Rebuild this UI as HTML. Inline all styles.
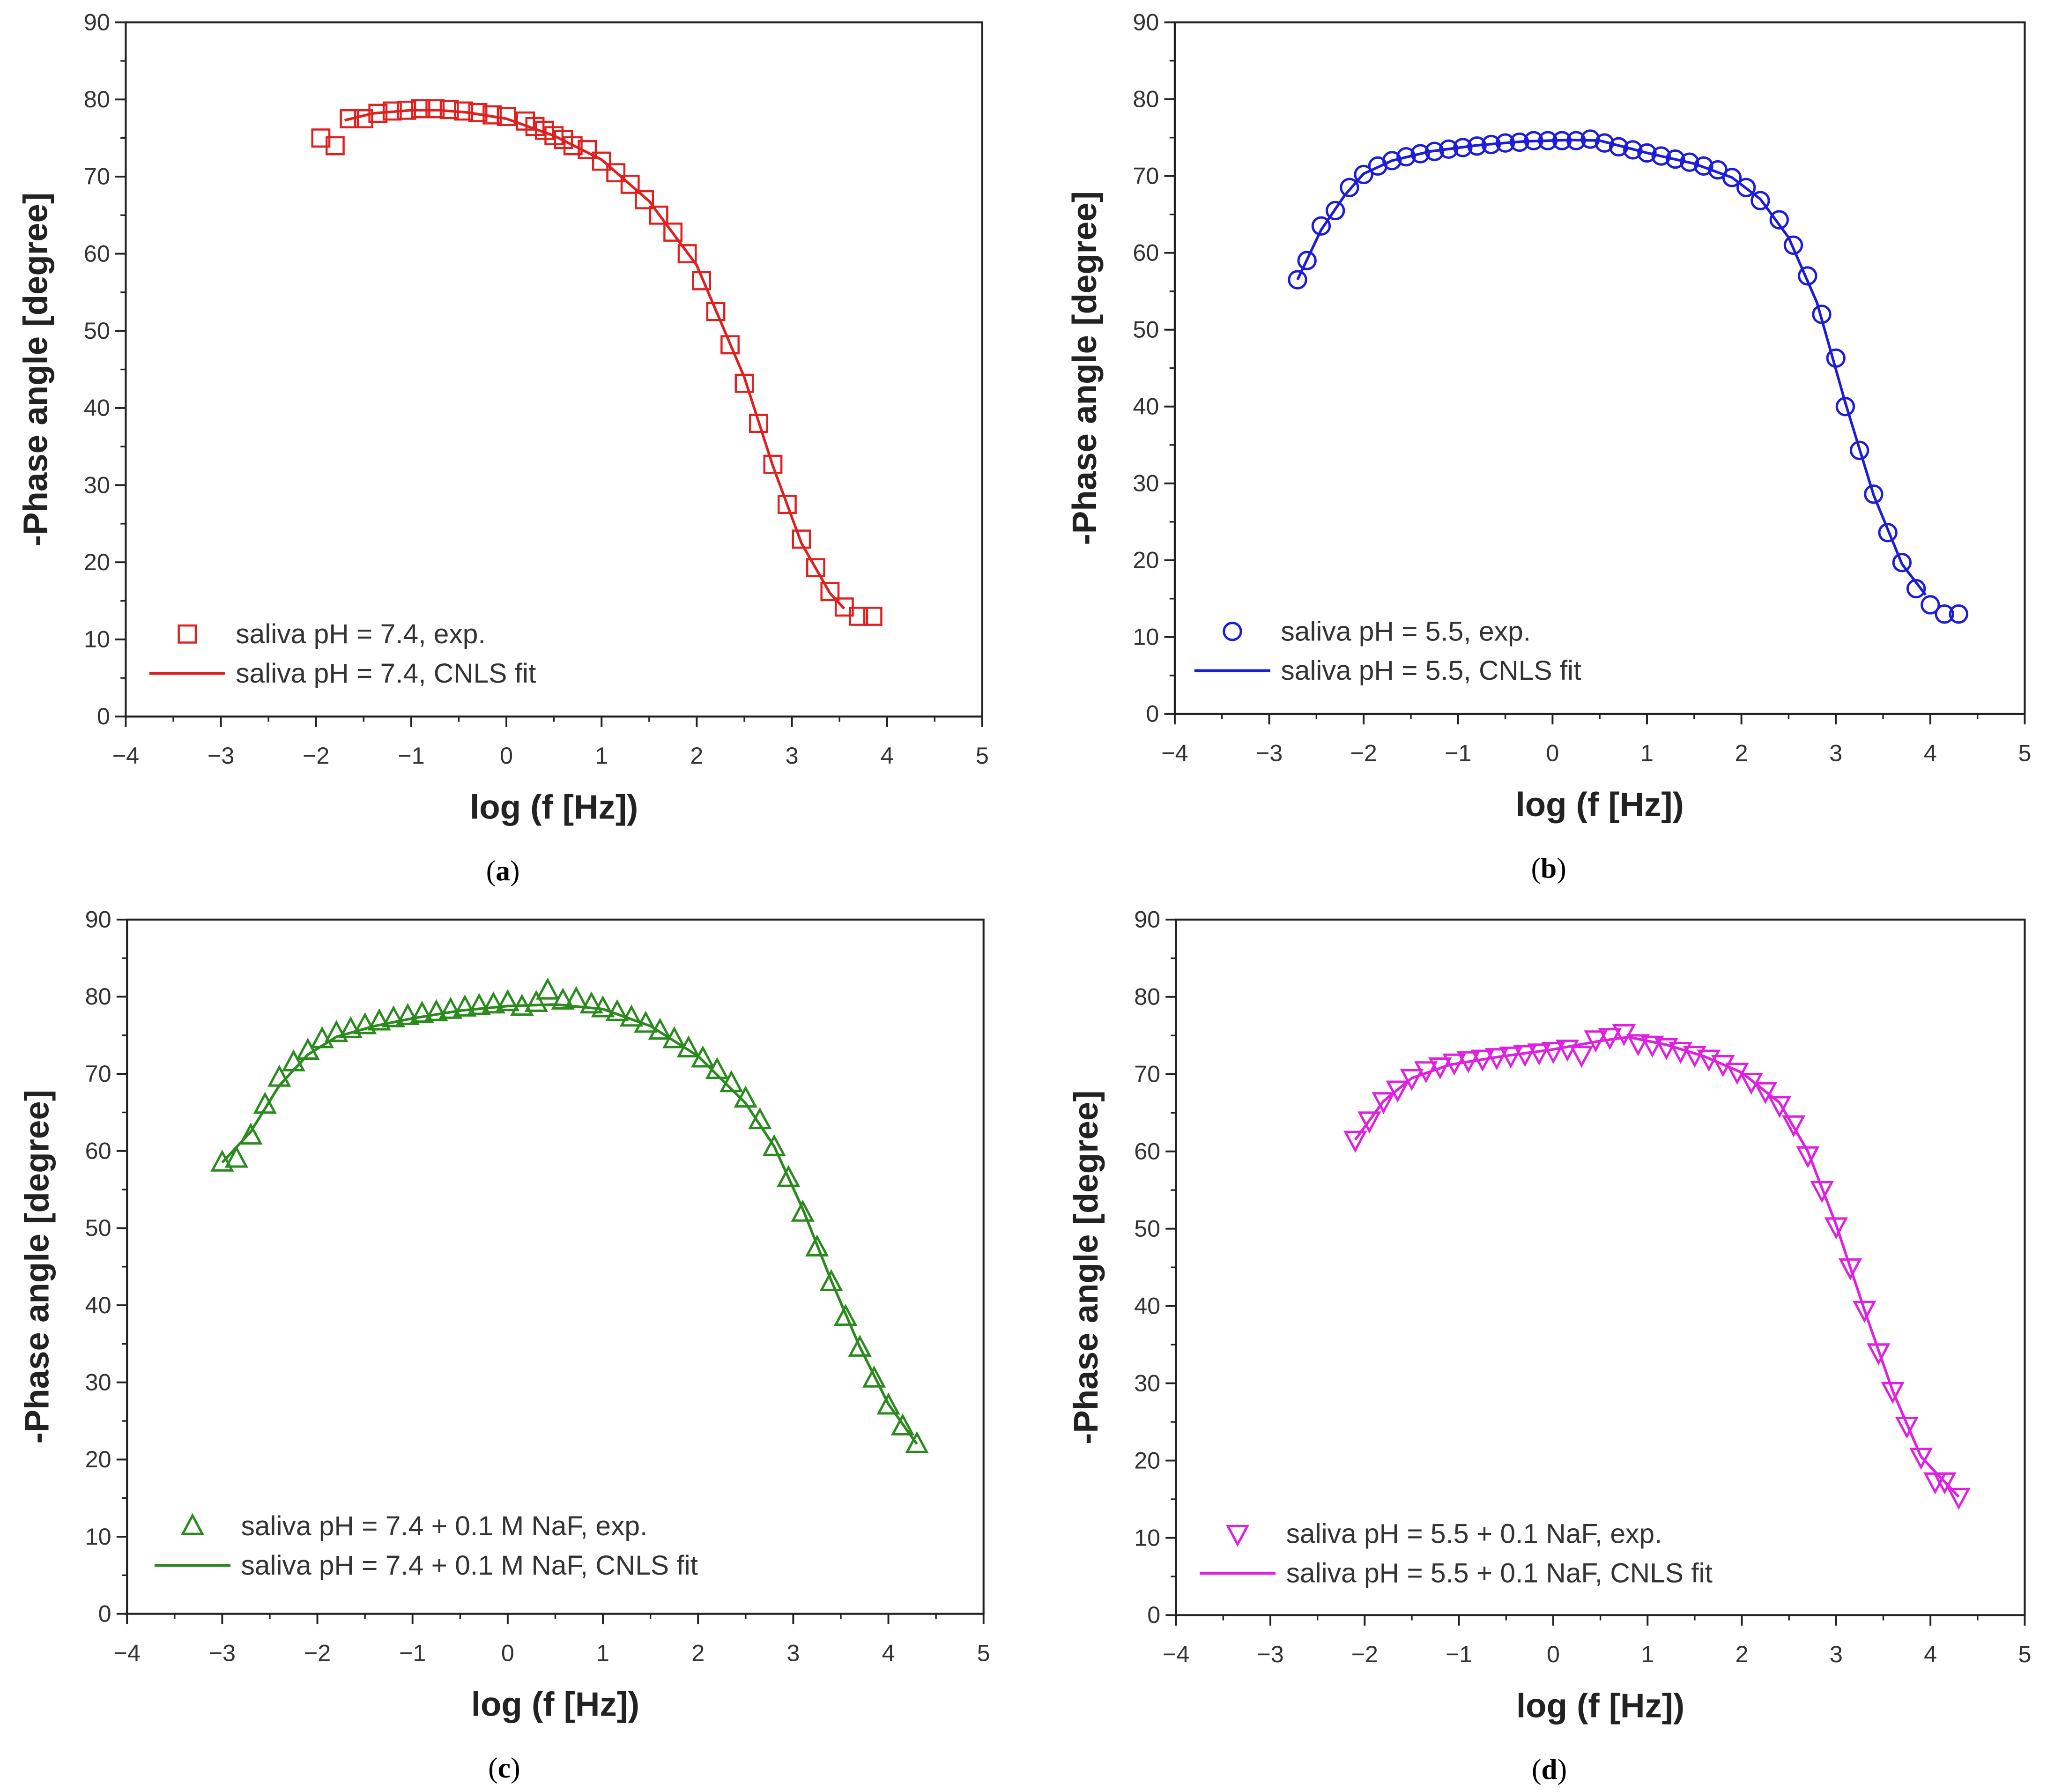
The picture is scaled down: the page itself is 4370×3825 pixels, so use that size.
<!DOCTYPE html>
<html><head><meta charset="utf-8"><style>
html,body{margin:0;padding:0;background:#fff}
svg{display:block}
</style></head><body>
<svg id="fig" width="4370" height="3825" viewBox="0 0 1563 1368" xmlns="http://www.w3.org/2000/svg" font-family="Liberation Sans, sans-serif"></svg>
<script>
const xTicks=[-4,-3,-2,-1,0,1,2,3,4,5];
const yTicks=[0,10,20,30,40,50,60,70,80,90];
const aExpX=[-1.95,-1.8,-1.65,-1.5,-1.35,-1.2,-1.05,-0.9,-0.75,-0.6,-0.45,-0.3,-0.15,0,0.2,0.3,0.4,0.5,0.6,0.7,0.85,1.0,1.15,1.3,1.45,1.6,1.75,1.9,2.05,2.2,2.35,2.5,2.65,2.8,2.95,3.1,3.25,3.4,3.55,3.7,3.85];
const aExpY=[75,74,77.5,77.5,78.2,78.5,78.6,78.8,78.8,78.7,78.5,78.3,78,77.8,77.2,76.5,76,75.3,74.8,74,73.5,72,70.5,69,67,65,62.8,60,56.5,52.5,48.2,43.2,38,32.7,27.5,23,19.3,16.2,14.2,13,13];
const aFitX=[-1.7,-1.4,-1,-0.7,-0.4,0,0.5,1,1.5,2,2.5,2.8,3.1,3.4,3.55];
const aFitY=[77.3,78.2,78.6,78.6,78.3,77.5,75.3,72.2,66.8,58.5,44,32.5,22.5,16,14];
const bExpX=[-2.7,-2.6,-2.45,-2.3,-2.15,-2.0,-1.85,-1.7,-1.55,-1.4,-1.25,-1.1,-0.95,-0.8,-0.65,-0.5,-0.35,-0.2,-0.05,0.1,0.25,0.4,0.55,0.7,0.85,1.0,1.15,1.3,1.45,1.6,1.75,1.9,2.05,2.2,2.4,2.55,2.7,2.85,3.0,3.1,3.25,3.4,3.55,3.7,3.85,4.0,4.15,4.3];
const bExpY=[56.5,59,63.5,65.5,68.5,70.2,71.3,72,72.5,72.9,73.2,73.5,73.7,73.9,74.1,74.3,74.4,74.6,74.6,74.6,74.6,74.8,74.3,73.8,73.4,73,72.6,72.2,71.8,71.3,70.8,69.8,68.5,66.8,64.3,61,57,52,46.3,40,34.3,28.6,23.6,19.7,16.3,14.2,13,13];
const bFitX=[-2.7,-2.45,-2.2,-2.0,-1.7,-1.3,-0.8,-0.3,0.2,0.5,1.0,1.5,1.9,2.2,2.5,2.8,3.1,3.4,3.7,3.95];
const bFitY=[56.5,63,67.5,70.3,72,73.2,74,74.5,74.7,74.6,73,71.6,69.8,67,62,53.5,40.5,28.5,19.5,15.5];
const cExpX=[-3.0,-2.85,-2.7,-2.55,-2.4,-2.25,-2.1,-1.95,-1.8,-1.65,-1.5,-1.35,-1.2,-1.05,-0.9,-0.75,-0.6,-0.45,-0.3,-0.15,0,0.15,0.3,0.42,0.58,0.72,0.88,1.0,1.15,1.3,1.45,1.6,1.75,1.9,2.05,2.2,2.35,2.5,2.65,2.8,2.95,3.1,3.25,3.4,3.55,3.7,3.85,4.0,4.15,4.3];
const cExpY=[58.5,59,62,66,69.5,71.5,73,74.5,75.3,75.8,76.3,76.8,77.2,77.5,77.8,78,78.3,78.6,78.8,79,79.3,78.7,79.2,80.8,79.5,79.7,79,78.5,78,77.3,76.5,75.6,74.5,73.3,72,70.5,68.8,66.8,64,60.5,56.5,52,47.5,43,38.5,34.5,30.5,27,24.3,22];
const cFitX=[-3.0,-2.7,-2.4,-2.1,-1.8,-1.4,-1.0,-0.5,0,0.5,1.0,1.5,2.0,2.5,2.8,3.1,3.4,3.7,4.0,4.3];
const cFitY=[58.5,62.5,68.5,72.5,74.8,76.2,77.2,78.2,78.8,79,78.4,76.2,72.3,66.2,60.6,52.5,43.2,34.6,27.2,22];
const dExpX=[-2.1,-1.95,-1.8,-1.65,-1.5,-1.35,-1.2,-1.05,-0.9,-0.75,-0.6,-0.45,-0.3,-0.15,0,0.15,0.3,0.45,0.6,0.75,0.9,1.05,1.2,1.35,1.5,1.65,1.8,1.95,2.1,2.25,2.4,2.55,2.7,2.85,3.0,3.15,3.3,3.45,3.6,3.75,3.9,4.05,4.15,4.3];
const dExpY=[61.5,64,66.5,68,69.5,70.5,71,71.5,71.8,72,72.2,72.4,72.6,72.8,73,73.3,72.5,74.5,74.8,75.3,74,73.8,73.5,73,72.5,72,71.3,70.3,69,67.8,66,63.5,59.5,55,50.3,45,39.5,34,29,24.5,20.5,17.3,17.3,15.3];
const dFitX=[-2.1,-1.8,-1.5,-1.1,-0.6,0,0.5,0.8,1.2,1.6,2.0,2.4,2.7,3.0,3.3,3.6,3.9,4.3];
const dFitY=[61.5,66.5,69.5,71.2,72.2,73.2,74.3,74.8,73.8,72.3,70.2,66.3,60,50.5,39.5,29,20.5,15.3];

const NS='http://www.w3.org/2000/svg';
const svg=document.getElementById('fig');
function mk(tag,attrs,parent){const e=document.createElementNS(NS,tag);for(const k in attrs)e.setAttribute(k,attrs[k]);(parent||svg).appendChild(e);return e;}

function panel(p){
  const g=mk('g',{});
  
  
  const sx=v=>p.L+(v+4)/9*(p.R-p.L);
  const sy=v=>p.B-v/90*(p.B-p.T);
  const fr=mk('rect',{x:p.L,y:p.T,width:p.R-p.L,height:p.B-p.T,fill:'none',stroke:'#222','stroke-width':1.5},g);
  
  
  xTicks.forEach((t,i)=>{
    const x=sx(t);
    mk('line',{x1:x,x2:x,y1:p.B,y2:p.B+8,stroke:'#222','stroke-width':1.4},g);
    if(i<xTicks.length-1){const xm=sx(t+0.5);mk('line',{x1:xm,x2:xm,y1:p.B,y2:p.B+4,stroke:'#222','stroke-width':1.2},g);}
    const tx=mk('text',{x:x,y:p.B+36,'text-anchor':'middle','font-size':18,fill:'#333'},g);
    tx.textContent=t<0?'\u2212'+(-t):String(t);
    
    
  });
  yTicks.forEach((t,i)=>{
    const y=sy(t);
    mk('line',{x1:p.L-8,x2:p.L,y1:y,y2:y,stroke:'#222','stroke-width':1.4},g);
    if(i<yTicks.length-1){const ym=sy(t+5);mk('line',{x1:p.L-4,x2:p.L,y1:ym,y2:ym,stroke:'#222','stroke-width':1.2},g);}
    const ty=mk('text',{x:p.L-12,y:y+6,'text-anchor':'end','font-size':18,fill:'#333'},g);
    ty.textContent=String(t);
    
    
  });
  const yt=mk('text',{x:0,y:0,transform:`translate(${p.L-60},${(p.T+p.B)/2}) rotate(-90)`,'text-anchor':'middle','font-size':26,'font-weight':'bold',fill:'#222'},g);
  yt.textContent='-Phase angle [degree]';
  
  
  const xt=mk('text',{x:(p.L+p.R)/2,y:p.B+78,'text-anchor':'middle','font-size':26,'font-weight':'bold',fill:'#222'},g);
  xt.textContent='log (f [Hz])';
  
  
  const cap=mk('text',{x:(p.L+p.R)/2-39,y:p.B+125,'text-anchor':'middle','font-size':22,'font-family':'Liberation Serif, serif',fill:'#000'},g);
  cap.innerHTML='(<tspan font-weight="bold">'+p.id+'</tspan>)';
  
  
  let d='';p.fx.forEach((v,i)=>{d+=(i?'L':'M')+sx(v).toFixed(1)+','+sy(p.fy[i]).toFixed(1);});
  const fl=mk('path',{d:d,fill:'none',stroke:p.c,'stroke-width':2},g);
  
  
  const drawMarker=(x,y,par)=>{
    let m;
    if(p.m==='sq') m=mk('rect',{x:x-6.5,y:y-6.5,width:13,height:13,fill:'none',stroke:p.c,'stroke-width':1.6},par);
    else if(p.m==='ci') m=mk('circle',{cx:x,cy:y,r:6.5,fill:'none',stroke:p.c,'stroke-width':1.8},par);
    else if(p.m==='up') m=mk('polygon',{points:`${x},${y-8} ${x-7.5},${y+6} ${x+7.5},${y+6}`,fill:'none',stroke:p.c,'stroke-width':1.8},par);
    else m=mk('polygon',{points:`${x},${y+8} ${x-7.5},${y-6} ${x+7.5},${y-6}`,fill:'none',stroke:p.c,'stroke-width':1.8},par);
    return m;
  };
  p.ex.forEach((v,i)=>{
    const m=drawMarker(sx(v),sy(p.ey[i]),g);
    
    
  });
  const lm=drawMarker(p.lx+29,p.ly,g);
  
  
  const l1=mk('text',{x:p.lx+66,y:p.ly+7,'font-size':21,fill:'#333'},g);
  l1.textContent=p.t1;
  
  
  const ll=mk('line',{x1:p.lx,x2:p.lx+58,y1:p.ly+30,y2:p.ly+30,stroke:p.c,'stroke-width':2.2},g);
  
  
  const l2=mk('text',{x:p.lx+66,y:p.ly+37,'font-size':21,fill:'#333'},g);
  l2.textContent=p.t2;
  
  
}
panel({id:'a',L:96,R:750,T:17,B:547,c:'#e0201e',m:'sq',ex:aExpX,ey:aExpY,fx:aFitX,fy:aFitY,lx:114,ly:484,t1:'saliva pH = 7.4, exp.',t2:'saliva pH = 7.4, CNLS fit'});
panel({id:'b',L:897,R:1546,T:17,B:545,c:'#1c1cdc',m:'ci',ex:bExpX,ey:bExpY,fx:bFitX,fy:bFitY,lx:912,ly:482,t1:'saliva pH = 5.5, exp.',t2:'saliva pH = 5.5, CNLS fit'});
panel({id:'c',L:97,R:751,T:702,B:1232,c:'#2a8a1e',m:'up',ex:cExpX,ey:cExpY,fx:cFitX,fy:cFitY,lx:118,ly:1165,t1:'saliva pH = 7.4 + 0.1 M NaF, exp.',t2:'saliva pH = 7.4 + 0.1 M NaF, CNLS fit'});
panel({id:'d',L:898,R:1546,T:702,B:1233,c:'#e020e0',m:'dn',ex:dExpX,ey:dExpY,fx:dFitX,fy:dFitY,lx:916,ly:1171,t1:'saliva pH = 5.5 + 0.1 NaF, exp.',t2:'saliva pH = 5.5 + 0.1 NaF, CNLS fit'});
</script>
</body></html>
